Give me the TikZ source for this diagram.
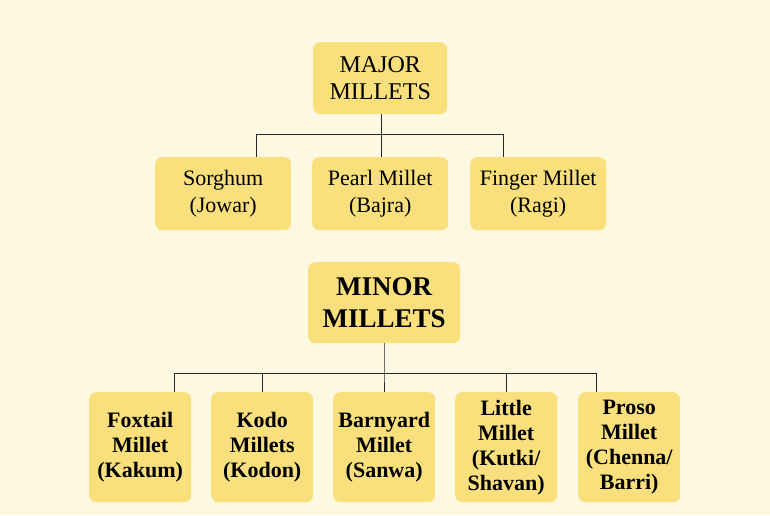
\documentclass[tikz,border=0pt]{standalone}
\usepackage{fontspec}
\setmainfont{Liberation Serif}
\definecolor{bg}{HTML}{FDF8E2}
\definecolor{box}{HTML}{F9E07C}
\begin{document}
\begin{tikzpicture}[x=1pt,y=-1pt,
  bx/.style={fill=box,rounded corners=7pt,align=center,inner sep=0pt,anchor=north west},
  ln/.style={draw=black!85,line width=1pt}]
\fill[bg] (0,0) rectangle (770,515);
\useasboundingbox (0,0) rectangle (770,515);
\node[bx,minimum width=134pt,minimum height=72pt,font=\fontsize{24}{27}\selectfont] (maj) at (313,42) {MAJOR\\MILLETS};
\node[bx,minimum width=136pt,minimum height=73pt,font=\fontsize{22}{27}\selectfont] (s) at (155,157) {Sorghum\\(Jowar)};
\node[bx,minimum width=136pt,minimum height=73pt,font=\fontsize{22}{27}\selectfont] (p) at (312,157) {Pearl Millet\\(Bajra)};
\node[bx,minimum width=136pt,minimum height=73pt,font=\fontsize{22}{27}\selectfont] (f) at (470,157) {Finger Millet\\(Ragi)};
\coordinate (j1) at (381,134);
\coordinate (ls) at (256,157);
\coordinate (lf) at (503,157);
\draw[ln] (maj.south -| j1) -- (j1);
\draw[ln] (ls) -- (ls |- j1) -- (lf |- j1) -- (lf);
\draw[ln] (j1) -- (j1 |- p.north);
\node[bx,minimum width=152pt,minimum height=81pt,font=\bfseries\fontsize{27}{32}\selectfont] (min) at (308,262) {MINOR\\MILLETS};
\foreach \n/\x/\t in {a/89/{Foxtail\\Millet\\(Kakum)},b/211/{Kodo\\Millets\\(Kodon)},c/333/{Barnyard\\Millet\\(Sanwa)},d/455/{Little\\Millet\\(Kutki/\\Shavan)},e/578/{Proso\\Millet\\(Chenna/\\Barri)}}
  \node[bx,minimum width=102pt,minimum height=110pt,font=\bfseries\fontsize{22}{25}\selectfont] (\n) at (\x,392) {\t};
\coordinate (j2) at (384,373);
\coordinate (da) at (174,392);
\coordinate (db) at (262,392);
\coordinate (dd) at (506,392);
\coordinate (de) at (596,392);
\draw[ln] (min.south -| j2) -- (j2) -- (j2 |- c.north);
\draw[ln] (da) -- (da |- j2) -- (de |- j2) -- (de);
\draw[ln] (db) -- (db |- j2);
\draw[ln] (dd) -- (dd |- j2);
\end{tikzpicture}
\end{document}
